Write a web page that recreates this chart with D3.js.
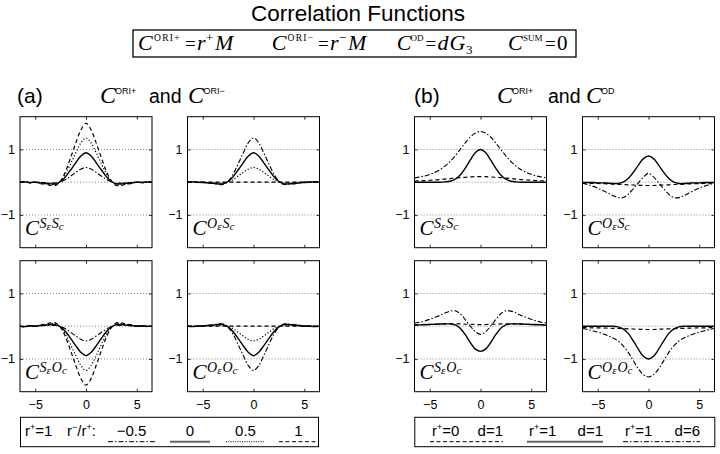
<!DOCTYPE html>
<html><head><meta charset="utf-8">
<script src="https://cdn.jsdelivr.net/npm/d3@7"></script>
<style>body{margin:0;background:#fff} svg{display:block}</style>
</head><body><svg id="c" width="720" height="454"></svg>
<script>
// ---------- data ----------
const xs = [-6.5,-6,-5.5,-5,-4.5,-4,-3.5,-3,-2.5,-2,-1.5,-1,-0.5,0,0.5,1,1.5,2,2.5,3,3.5,4,4.5,5,5.5,6,6.5];
const xTicks = [-5, 0, 5];
const yTickVals = [-1, 1];
const gridVals = [-1, 0, 1];

// panel (a): r+ = 1, r-/r+ = -0.5, 0, 0.5, 1
const aSS_m05 = [0.00,0.01,-0.01,0.00,-0.01,-0.02,-0.03,-0.02,0.01,0.08,0.19,0.30,0.40,0.45,0.40,0.30,0.19,0.09,0.01,-0.03,-0.02,-0.02,-0.01,0.00,0.00,0.01,0.00];
const aSS_0   = [0.00,0.01,-0.01,0.00,-0.02,-0.03,-0.05,-0.05,0.02,0.17,0.38,0.60,0.80,0.90,0.80,0.60,0.38,0.17,0.02,-0.05,-0.05,-0.03,-0.02,0.00,-0.01,0.00,0.00];
const aSS_05  = [0.00,0.01,-0.02,0.00,-0.03,-0.05,-0.07,-0.07,0.03,0.26,0.57,0.90,1.20,1.35,1.20,0.90,0.57,0.26,0.03,-0.07,-0.07,-0.05,-0.03,0.00,-0.01,0.01,0.00];
const aSS_1   = [0.00,0.02,-0.02,0.00,-0.04,-0.06,-0.10,-0.10,0.04,0.34,0.76,1.20,1.60,1.80,1.60,1.20,0.76,0.34,0.04,-0.10,-0.10,-0.06,-0.04,0.00,-0.02,0.01,0.00];

const aOS_m05 = [0.00,0.01,-0.01,0.00,-0.03,-0.04,-0.07,-0.07,0.03,0.25,0.57,0.90,1.21,1.35,1.21,0.90,0.57,0.25,0.03,-0.07,-0.06,-0.05,-0.03,0.00,-0.01,0.01,0.00];
const aOS_0   = [0.00,0.01,0.00,-0.01,-0.02,-0.03,-0.05,-0.05,0.02,0.17,0.38,0.60,0.80,0.90,0.80,0.60,0.38,0.17,0.02,-0.05,-0.05,-0.03,-0.02,-0.01,0.00,0.01,0.00];
const aOS_05  = [0.00,0.00,-0.01,0.00,-0.01,-0.02,-0.02,-0.03,0.01,0.08,0.19,0.30,0.40,0.45,0.40,0.30,0.19,0.08,0.01,-0.02,-0.03,-0.02,-0.01,0.00,0.00,0.00,0.00];
const aOS_1   = [0,0,0,0,0,0,0,0,0,0,0,0,0,0,0,0,0,0,0,0,0,0,0,0,0,0,0];

const aSO_m05 = [0.00,-0.01,0.01,0.00,0.01,0.02,0.03,0.02,-0.01,-0.08,-0.19,-0.30,-0.40,-0.45,-0.40,-0.30,-0.19,-0.09,-0.01,0.03,0.02,0.02,0.01,0.00,0.00,-0.01,0.00];
const aSO_0   = [0.00,-0.01,0.01,0.00,0.02,0.03,0.05,0.05,-0.02,-0.17,-0.38,-0.60,-0.80,-0.90,-0.80,-0.60,-0.38,-0.17,-0.02,0.05,0.05,0.03,0.02,0.00,0.01,0.00,0.00];
const aSO_05  = [0.00,-0.01,0.02,0.00,0.03,0.05,0.07,0.07,-0.03,-0.26,-0.57,-0.90,-1.20,-1.35,-1.20,-0.90,-0.57,-0.26,-0.03,0.07,0.07,0.05,0.03,0.00,0.01,-0.01,0.00];
const aSO_1   = [0.00,-0.02,0.02,0.00,0.04,0.06,0.10,0.10,-0.04,-0.34,-0.76,-1.20,-1.60,-1.80,-1.60,-1.20,-0.76,-0.34,-0.04,0.10,0.10,0.06,0.04,0.00,0.02,-0.01,0.00];

const aOO_m05 = [0.00,-0.01,0.01,0.00,0.03,0.04,0.07,0.07,-0.03,-0.25,-0.57,-0.90,-1.21,-1.35,-1.21,-0.90,-0.57,-0.25,-0.03,0.07,0.06,0.05,0.03,0.00,0.01,-0.01,0.00];
const aOO_0   = [0.00,-0.01,0.00,0.01,0.02,0.03,0.05,0.05,-0.02,-0.17,-0.38,-0.60,-0.80,-0.90,-0.80,-0.60,-0.38,-0.17,-0.02,0.05,0.05,0.03,0.02,0.01,0.00,-0.01,0.00];
const aOO_05  = [0.00,0.00,0.01,0.00,0.01,0.02,0.02,0.03,-0.01,-0.08,-0.19,-0.30,-0.40,-0.45,-0.40,-0.30,-0.19,-0.08,-0.01,0.02,0.03,0.02,0.01,0.00,0.00,0.00,0.00];
const aOO_1   = [0,0,0,0,0,0,0,0,0,0,0,0,0,0,0,0,0,0,0,0,0,0,0,0,0,0,0];

// panel (b): (r+=0,d=1), (r+=1,d=1), (r+=1,d=6)
const bSS_r0d1 = [0.035,0.04,0.05,0.06,0.07,0.08,0.095,0.11,0.125,0.14,0.15,0.16,0.17,0.17,0.17,0.16,0.15,0.14,0.125,0.11,0.095,0.08,0.07,0.06,0.05,0.04,0.035];
const bSS_r1d1 = [0,0,0,0,0,0,0.01,0.03,0.09,0.22,0.43,0.68,0.91,1.00,0.91,0.68,0.43,0.22,0.09,0.03,0.01,0,0,0,0,0,0];
const bSS_r1d6 = [0.13,0.16,0.19,0.24,0.30,0.38,0.49,0.63,0.80,1.00,1.20,1.38,1.50,1.55,1.50,1.38,1.20,1.00,0.80,0.63,0.49,0.38,0.30,0.24,0.19,0.16,0.13];

const bOS_r0d1 = [-0.03,-0.03,-0.035,-0.04,-0.045,-0.05,-0.06,-0.065,-0.07,-0.08,-0.085,-0.09,-0.10,-0.10,-0.10,-0.09,-0.085,-0.08,-0.07,-0.065,-0.06,-0.05,-0.045,-0.04,-0.035,-0.03,-0.03];
const bOS_r1d1 = [-0.01,-0.01,-0.01,-0.02,-0.02,-0.03,-0.04,-0.04,0.00,0.11,0.30,0.52,0.72,0.80,0.72,0.52,0.30,0.11,0.00,-0.04,-0.04,-0.03,-0.02,-0.02,-0.01,-0.01,-0.01];
const bOS_r1d6 = [-0.03,-0.07,-0.12,-0.18,-0.25,-0.33,-0.41,-0.47,-0.47,-0.37,-0.20,-0.02,0.16,0.27,0.16,-0.02,-0.20,-0.37,-0.47,-0.47,-0.41,-0.33,-0.25,-0.18,-0.12,-0.07,-0.03];

const bSO_r0d1 = [0.05,0.05,0.055,0.06,0.06,0.065,0.07,0.07,0.07,0.07,0.06,0.06,0.05,0.05,0.05,0.06,0.06,0.07,0.07,0.07,0.07,0.065,0.06,0.06,0.055,0.05,0.05];
const bSO_r1d1 = [0.03,0.04,0.045,0.05,0.06,0.065,0.07,0.07,0.04,-0.06,-0.26,-0.50,-0.70,-0.77,-0.70,-0.50,-0.26,-0.06,0.04,0.07,0.07,0.065,0.06,0.05,0.045,0.04,0.03];
const bSO_r1d6 = [0.10,0.12,0.16,0.21,0.27,0.33,0.40,0.46,0.47,0.38,0.20,0.00,-0.17,-0.25,-0.17,0.00,0.20,0.38,0.47,0.46,0.40,0.33,0.27,0.21,0.16,0.12,0.10];

const bOO_r0d1 = [-0.04,-0.045,-0.05,-0.05,-0.055,-0.06,-0.065,-0.07,-0.075,-0.08,-0.085,-0.09,-0.10,-0.10,-0.10,-0.09,-0.085,-0.08,-0.075,-0.07,-0.065,-0.06,-0.055,-0.05,-0.05,-0.045,-0.04];
const bOO_r1d1 = [0,0,0,0,0,0,0,-0.02,-0.08,-0.22,-0.45,-0.70,-0.92,-1.00,-0.92,-0.70,-0.45,-0.22,-0.08,-0.02,0,0,0,0,0,0,0];
const bOO_r1d6 = [-0.07,-0.10,-0.14,-0.18,-0.23,-0.29,-0.36,-0.45,-0.60,-0.80,-1.05,-1.30,-1.48,-1.55,-1.48,-1.30,-1.05,-0.80,-0.60,-0.45,-0.36,-0.29,-0.23,-0.18,-0.14,-0.10,-0.07];

const legendAValues = ["\u22120.5", "0", "0.5", "1"];
const legendAStyles = ["dashdot", "solid", "dotted", "dashed"];
const legendBStyles = ["dashed", "solid", "dashdot"];
const legendBLabels = [["0","1"], ["1","1"], ["1","6"]];

// ---------- drawing ----------
const svg = d3.select("#c");
svg.append("rect").attr("width", 720).attr("height", 454).attr("fill", "#fff");
const SANS = "'Liberation Sans', Arial, Helvetica, sans-serif";
const SERIF = "'Liberation Serif', 'Times New Roman', serif";
const DASH = {solid: null, dashed: "4,3", dotted: "1.2,2", dashdot: "5,2,1.5,2"};
const SW = {solid: 1.4, dashed: 1.2, dotted: 1.2, dashdot: 1.1};

function rich(x, y, parts, anchor) {
  const t = svg.append("text").attr("x", x).attr("y", y).attr("fill", "#000");
  if (anchor) t.attr("text-anchor", anchor);
  let cur = 0;
  parts.forEach(p => {
    const sh = p.sh || 0;
    const ts = t.append("tspan").attr("dy", sh - cur).text(p.t)
      .attr("font-size", p.s)
      .attr("font-family", p.f === "sans" ? SANS : SERIF)
      .attr("font-style", p.i ? "italic" : "normal");
    if (p.dx) ts.attr("dx", p.dx);
    if (p.ls) ts.attr("letter-spacing", p.ls);
    cur = sh;
  });
  return t;
}
function piece(x, y, t, s, opt) {
  opt = opt || {};
  const e = svg.append("text").attr("x", x).attr("y", y).text(t)
    .attr("font-size", s).attr("font-family", opt.sans ? SANS : SERIF)
    .attr("font-style", opt.i ? "italic" : "normal").attr("fill", "#000");
  if (opt.ls) e.attr("letter-spacing", opt.ls);
  return e;
}

// Title
svg.append("text").attr("x", 358).attr("y", 21).attr("text-anchor", "middle")
  .attr("font-family", SANS).attr("font-size", 22.5).text("Correlation Functions");

// Formula box
svg.append("rect").attr("x", 133).attr("y", 30).attr("width", 443).attr("height", 27)
  .attr("fill", "none").attr("stroke", "#000").attr("stroke-width", 1.3);
const fb = 49.5, fs = -9;
piece(138, fb, "C", 22, {i:1}); piece(154, fb + fs, "ORI+", 9.5, {ls:1.3});
piece(185, fb, "=", 19); piece(197, fb, "r", 22, {i:1}); piece(206, fb - 8, "+", 13); piece(215, fb, "M", 22, {i:1});
piece(271.7, fb, "C", 22, {i:1}); piece(287.5, fb + fs, "ORI\u2212", 9.5, {ls:1.3});
piece(318, fb, "=", 19); piece(330, fb, "r", 22, {i:1}); piece(339, fb - 8, "\u2212", 13); piece(348, fb, "M", 22, {i:1});
piece(396.7, fb, "C", 22, {i:1}); piece(410.5, fb + fs, "OD", 9);
piece(425.5, fb, "=", 19); piece(437.5, fb, "d", 22, {i:1}); piece(449.5, fb, "G", 22, {i:1}); piece(466, fb + 4, "3", 13);
piece(508, fb, "C", 22, {i:1}); piece(523, fb + fs, "SUM", 9);
piece(545, fb, "=", 19); piece(557, fb, "0", 21);

// Headings
svg.append("text").attr("x", 17).attr("y", 103.3).attr("font-family", SANS).attr("font-size", 21).text("(a)");
svg.append("text").attr("x", 414).attr("y", 103.3).attr("font-family", SANS).attr("font-size", 21).text("(b)");
piece(100, 103.3, "C", 24, {i:1}); piece(115, 93.5, "ORI+", 9, {sans:1});
piece(149, 103.3, "and", 19.5, {sans:1});
piece(188, 103.3, "C", 24, {i:1}); piece(203.5, 93.5, "ORI\u2212", 9, {sans:1});
piece(497, 103.3, "C", 24, {i:1}); piece(512, 93.5, "ORI+", 9, {sans:1});
piece(548, 103.3, "and", 19.5, {sans:1});
piece(586, 103.3, "C", 24, {i:1}); piece(601, 93.5, "OD", 9, {sans:1});

// Panels
const PW = 132, PH = 131;
const colLefts = [20, 187.5, 414.5, 582.5];
const rowTops = [116.7, 260.7];
const panels = [
  {c:0, r:0, sup:["S","S"], series:[aSS_m05, aSS_0, aSS_05, aSS_1], styles:legendAStyles},
  {c:1, r:0, sup:["O","S"], series:[aOS_m05, aOS_0, aOS_05, aOS_1], styles:legendAStyles},
  {c:0, r:1, sup:["S","O"], series:[aSO_m05, aSO_0, aSO_05, aSO_1], styles:legendAStyles},
  {c:1, r:1, sup:["O","O"], series:[aOO_m05, aOO_0, aOO_05, aOO_1], styles:legendAStyles},
  {c:2, r:0, sup:["S","S"], series:[bSS_r0d1, bSS_r1d1, bSS_r1d6], styles:legendBStyles},
  {c:3, r:0, sup:["O","S"], series:[bOS_r0d1, bOS_r1d1, bOS_r1d6], styles:legendBStyles},
  {c:2, r:1, sup:["S","O"], series:[bSO_r0d1, bSO_r1d1, bSO_r1d6], styles:legendBStyles},
  {c:3, r:1, sup:["O","O"], series:[bOO_r0d1, bOO_r1d1, bOO_r1d6], styles:legendBStyles}
];

const yFmt = d3.format("d");
panels.forEach((p, pi) => {
  const left = colLefts[p.c], top = rowTops[p.r];
  const x = d3.scaleLinear().domain([-6.5, 6.5]).range([left, left + PW]);
  const y = d3.scaleLinear().domain([-2, 2]).range([top + PH, top]);
  const g = svg.append("g");
  const cid = "clip" + pi;
  svg.append("clipPath").attr("id", cid).append("rect")
    .attr("x", left).attr("y", top).attr("width", PW).attr("height", PH);

  // grid
  g.selectAll(".grid").data(gridVals).enter().append("line")
    .attr("x1", left).attr("x2", left + PW)
    .attr("y1", d => y(d)).attr("y2", d => y(d))
    .attr("stroke", "#666").attr("stroke-width", 0.8).attr("stroke-dasharray", "1,2");

  // curves
  const line = d3.line().x((d, i) => x(xs[i])).y(d => y(d)).curve(d3.curveCatmullRom.alpha(0.5));
  const cg = g.append("g").attr("clip-path", `url(#${cid})`);
  p.series.forEach((s, si) => {
    const st = p.styles[si];
    cg.append("path").attr("d", line(s)).attr("fill", "none").attr("stroke", "#000")
      .attr("stroke-width", SW[st]).attr("stroke-dasharray", DASH[st]);
  });

  // axes
  const styleAxis = sel => {
    sel.select(".domain").remove();
    sel.selectAll(".tick line").attr("stroke", "#000").attr("stroke-width", 0.8);
    sel.selectAll("text").attr("font-family", SANS).attr("font-size", 12.5).attr("fill", "#000");
  };
  const bottom = d3.axisBottom(x).tickValues(xTicks).tickSize(-3).tickPadding(8).tickFormat(yFmt);
  if (p.r === 0) bottom.tickFormat("");
  g.append("g").attr("transform", `translate(0,${top + PH})`).call(bottom).call(styleAxis);
  g.append("g").attr("transform", `translate(0,${top})`)
    .call(d3.axisTop(x).tickValues(xTicks).tickSize(-3).tickFormat("")).call(styleAxis);
  g.append("g").attr("transform", `translate(${left},0)`)
    .call(d3.axisLeft(y).tickValues(yTickVals).tickSize(-3).tickPadding(5).tickFormat(yFmt)).call(styleAxis);
  g.append("g").attr("transform", `translate(${left + PW},0)`)
    .call(d3.axisRight(y).tickValues(yTickVals).tickSize(-3).tickFormat("")).call(styleAxis);

  // frame
  g.append("rect").attr("x", left).attr("y", top).attr("width", PW).attr("height", PH)
    .attr("fill", "none").attr("stroke", "#000").attr("stroke-width", 1);

  // label
  rich(left + 5, top + 118.3, [
    {t:"C", s:21, i:1},
    {t:p.sup[0], s:14, i:1, sh:-7, dx:0.5},
    {t:"\u03b5", s:11, i:1, sh:-5},
    {t:p.sup[1], s:14, i:1, sh:-7, dx:1},
    {t:"c", s:11, i:1, sh:-5}
  ]);
});

// Legend (a)
svg.append("rect").attr("x", 20.5).attr("y", 417.3).attr("width", 298).attr("height", 29.4)
  .attr("fill", "none").attr("stroke", "#000").attr("stroke-width", 1);
const LB = 436, LS = 441.7;
rich(25, LB, [{t:"r",s:15,f:"sans"},{t:"+",s:9,f:"sans",sh:-6},{t:"=1",s:15,f:"sans"}]);
rich(67, LB, [{t:"r",s:15,f:"sans"},{t:"\u2212",s:9,f:"sans",sh:-6},{t:"/r",s:15,f:"sans"},{t:"+",s:9,f:"sans",sh:-6},{t:":",s:15,f:"sans"}]);
const legASamples = [[108,155],[170,210],[226,265],[279,318]];
legendAValues.forEach((v, i) => {
  const [x1, x2] = legASamples[i];
  svg.append("text").attr("x", (x1 + x2) / 2).attr("y", LB).attr("text-anchor", "middle")
    .attr("font-family", SANS).attr("font-size", 15).text(v);
  const st = legendAStyles[i];
  svg.append("line").attr("x1", x1).attr("x2", x2).attr("y1", LS).attr("y2", LS)
    .attr("stroke", st === "solid" ? "#666" : "#000").attr("stroke-width", st === "solid" ? 2 : 1)
    .attr("stroke-dasharray", st === "dotted" ? "1,1.3" : (st === "dashed" ? "4,2.5" : DASH[st]));
});

// Legend (b)
svg.append("rect").attr("x", 414.8).attr("y", 417.3).attr("width", 300).attr("height", 29.4)
  .attr("fill", "none").attr("stroke", "#000").attr("stroke-width", 1);
const legBSamples = [[430,503],[527,603],[623,700]];
legendBLabels.forEach((lab, i) => {
  const [x1, x2] = legBSamples[i];
  rich(x1 + 2, LB, [{t:"r",s:15,f:"sans"},{t:"+",s:9,f:"sans",sh:-6},{t:"=" + lab[0],s:15,f:"sans"}]);
  svg.append("text").attr("x", x2).attr("y", LB).attr("text-anchor", "end")
    .attr("font-family", SANS).attr("font-size", 15).text("d=" + lab[1]);
  const st = legendBStyles[i];
  svg.append("line").attr("x1", x1).attr("x2", x2).attr("y1", LS).attr("y2", LS)
    .attr("stroke", st === "solid" ? "#666" : "#000").attr("stroke-width", st === "solid" ? 2 : 1)
    .attr("stroke-dasharray", st === "dashed" ? "4,2.5" : DASH[st]);
});
</script></body></html>
